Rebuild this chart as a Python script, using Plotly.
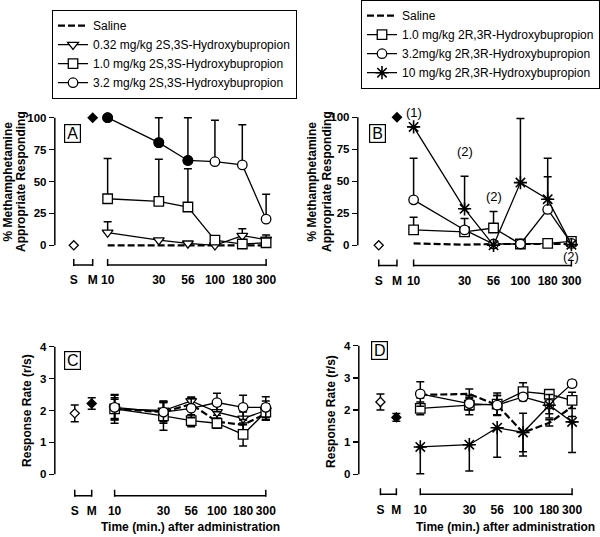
import numpy as np
import plotly.graph_objects as go

W, H = 600, 537

# ---------------- data ----------------
times = [10, 30, 56, 100, 180, 300]
time_labels = ['10', '30', '56', '100', '180', '300']
ctrl_labels = ['S', 'M']

# Panel A: % methamphetamine-appropriate responding, 2S,3S-hydroxybupropion
A_ctrl = [0, 100]
A_saline = [0, 0, 0, 0, 0, 0]
A_032 = [10, 4, 1.5, 0, 7.5, 4.5]
A_032_up = [8.5, 0, 0, 0, 5.5, 3.5]
A_10 = [36.5, 34.5, 30, 4, 1, 2]
A_10_up = [31.5, 33, 30, 0, 0, 0]
A_32 = [100, 80.5, 66.5, 65.5, 63, 20.5]
A_32_up = [0, 19.5, 33.5, 32.5, 31.5, 19.5]
A_32_sig = [True, True, True, False, False, False]

# Panel B: % methamphetamine-appropriate responding, 2R,3R-hydroxybupropion
B_ctrl = [0, 100]
B_saline = [1.5, 0.5, 1, 1, 1, 1]
B_10 = [12, 10.5, 13.5, 1, 1.5, 3]
B_10_up = [10, 3.5, 13, 0, 0, 0]
B_32 = [35.5, 12, 1, 1, 28, 1.5]
B_32_up = [32.5, 9, 0, 0, 25.5, 0]
B_100 = [92.5, 28.5, 0, 49, 36, 0.5]
B_100_up = [0, 25.5, 0, 50, 32, 0]
B_n_labels = ['(1)', '(2)', '(2)', '(2)', '', '(2)']
B_n_y = [104, 73, 38, 111, None, -9]

# Panel C: response rate (r/s), 2S,3S
C_ctrl = [1.91, 2.22]
C_ctrl_err = [0.26, 0.18]
C_saline = [2.05, 1.95, 2.2, 1.65, 1.55, 1.9]
C_saline_err = [0.35, 0.3, 0.2, 0.2, 0.15, 0.2]
C_032 = [2.05, 2.0, 2.3, 1.95, 1.75, 2.0]
C_032_err = [0.3, 0.25, 0.12, 0.2, 0.2, 0.3]
C_10 = [2.05, 1.83, 1.68, 1.6, 1.25, 1.95]
C_10_err = [0.45, 0.45, 0.19, 0.16, 0.36, 0.25]
C_32 = [2.1, 1.95, 2.07, 2.25, 2.1, 2.1]
C_32_err = [0.38, 0.35, 0.3, 0.29, 0.38, 0.33]

# Panel D: response rate (r/s), 2R,3R
D_ctrl = [2.25, 1.77]
D_ctrl_err = [0.25, 0.12]
D_saline = [2.47, 2.5, 2.15, 1.3, 1.6, 2.1]
D_saline_err = [0.1, 0.15, 0.3, 0.6, 0.1, 0.3]
D_10 = [2.05, 2.15, 2.18, 2.57, 2.49, 2.3]
D_10_err = [0.2, 0.3, 0.35, 0.28, 0.1, 0.25]
D_32 = [2.5, 2.2, 2.15, 2.41, 2.18, 2.82]
D_32_err = [0.38, 0.2, 0.3, 0.1, 0.3, 0.1]
D_100 = [0.85, 0.92, 1.45, 1.3, 2.15, 1.63]
D_100_down = [0.83, 0.82, 0.92, 0.73, 0.4, 0.95]

# ---------------- layout helpers ----------------
FONT = 'Arial, Liberation Sans, sans-serif'
BLACK = 'black'


def ydom(p0, v0, p1, v1, ptop, pbot):
    ppu = (p0 - p1) / (v1 - v0)
    rmin = v0 - (pbot - p0) / ppu
    rmax = v0 + (p0 - ptop) / ppu
    return [1 - pbot / H, 1 - ptop / H], [rmin, rmax], ppu


def xdom(p10, p300, pleft, pright):
    ppd = (p300 - p10) / np.log10(30)
    lmin = 1 - (p10 - pleft) / ppd
    lmax = np.log10(300) + (pright - p300) / ppd
    return [pleft / W, pright / W], [lmin, lmax], ppd


panels = {
    'A': dict(y=(245.3, 0, 117.7, 100), line=265.0, x=(108, 267, 55, 290), S=74, M=93,
              ytick=[0, 25, 50, 75, 100]),
    'B': dict(y=(245.3, 0, 117.3, 100), line=265.5, x=(415, 573.3, 359, 598), S=380, M=398.3,
              ytick=[0, 25, 50, 75, 100]),
    'C': dict(y=(474.3, 0, 346.7, 4), line=495.7, x=(115, 266.7, 55, 290), S=75, M=92,
              ytick=[0, 1, 2, 3, 4]),
    'D': dict(y=(474.3, 0, 345.7, 4), line=494.3, x=(421.7, 574, 360, 598), S=381.7, M=397.7,
              ytick=[0, 1, 2, 3, 4]),
}

fig = go.Figure()
layout = dict(width=W, height=H, margin=dict(l=0, r=0, t=0, b=0, pad=0),
              paper_bgcolor='white', plot_bgcolor='white',
              font=dict(family=FONT, color=BLACK), showlegend=True)
shapes = []
annotations = []

for i, (name, p) in enumerate(panels.items()):
    idx = '' if i == 0 else str(i + 1)
    xa, ya = 'xaxis' + idx, 'yaxis' + idx
    xr, yr = 'x' + idx, 'y' + idx
    p0, v0, p1, v1 = p['y']
    yd, yrng, ppu = ydom(p0, v0, p1, v1, p1 - 14, p['line'])
    xd, xrng, ppd = xdom(*p['x'])
    sx = 10 ** (1 - (p['x'][0] - p['S']) / ppd)
    mx = 10 ** (1 - (p['x'][0] - p['M']) / ppd)
    p['sx'], p['mx'], p['xr'], p['yr'] = sx, mx, xr, yr
    layout[xa] = dict(type='log', domain=xd, range=xrng, anchor=yr,
                      tickvals=[sx, mx] + times, ticktext=ctrl_labels + time_labels,
                      ticks='outside', ticklen=4, tickcolor='rgba(0,0,0,0)',
                      showline=False, showgrid=False, zeroline=False,
                      tickfont=dict(size=12, family=FONT, color=BLACK, weight='bold'))
    layout[ya] = dict(domain=yd, range=yrng, anchor=xr, tickvals=p['ytick'],
                      ticks='outside', ticklen=5, tickwidth=1.5, tickcolor=BLACK,
                      showline=False, showgrid=False, zeroline=False,
                      tickfont=dict(size=11.5, family=FONT, color=BLACK, weight='bold'))
    # y axis line (0 .. max tick)
    shapes.append(dict(type='line', xref=xr + ' domain', yref=yr, x0=0, x1=0,
                       y0=p['ytick'][0], y1=p['ytick'][-1], line=dict(color=BLACK, width=1.5)))
    # broken x axis line with end ticks (y in paper units so it isn't clipped)
    yl = 1 - p['line'] / H
    yt = 1 - (p['line'] - 6) / H
    yb = 1 - (p['line'] + 1) / H
    for a, b in [(sx, mx), (times[0], times[-1])]:
        shapes.append(dict(type='line', xref=xr, yref='paper', x0=a, x1=b, y0=yl, y1=yl,
                           line=dict(color=BLACK, width=1.5)))
        for t in (a, b):
            shapes.append(dict(type='line', xref=xr, yref='paper', x0=t, x1=t, y0=yb, y1=yt,
                               line=dict(color=BLACK, width=1.5)))


def err(up, down=None, w=4):
    if down is None:
        down = [0] * len(up)
    return dict(type='data', array=up, arrayminus=down, symmetric=False,
                color=BLACK, thickness=1.5, width=w)


def series(panel, y, symbol, name=None, legend=None, up=None, down=None,
           dashed=False, size=9.5, fill='white', showlegend=False):
    p = panels[panel]
    kw = {}
    if up is not None or down is not None:
        kw['error_y'] = err(up if up is not None else [0] * len(y), down)
    mode = 'lines' if symbol is None else 'lines+markers'
    marker = None
    if symbol is not None:
        if symbol == 'asterisk-open':
            marker = dict(symbol=symbol, size=11, color=BLACK, line=dict(color=BLACK, width=1.6))
        else:
            marker = dict(symbol=symbol, size=size, color=fill, line=dict(color=BLACK, width=1.3))
    fig.add_trace(go.Scatter(
        x=times, y=y, mode=mode, name=name, legend=legend, showlegend=showlegend,
        xaxis=p['xr'], yaxis=p['yr'], marker=marker, cliponaxis=False,
        line=dict(color=BLACK, width=2.2 if dashed else 1.3, dash='7px,3px' if dashed else 'solid'),
        **kw))


def controls(panel, vals, errs=None):
    p = panels[panel]
    for j, (xv, v, fillc) in enumerate(zip([p['sx'], p['mx']], vals, ['white', BLACK])):
        kw = {}
        if errs is not None:
            kw['error_y'] = err([errs[j]], [errs[j]], w=4)
        fig.add_trace(go.Scatter(
            x=[xv], y=[v], mode='markers', showlegend=False, cliponaxis=False,
            xaxis=p['xr'], yaxis=p['yr'],
            marker=dict(symbol='diamond', size=7, color=fillc, line=dict(color=BLACK, width=1.3)),
            **kw))


# ---- Panel A ----
controls('A', A_ctrl)
series('A', A_saline, None, 'Saline', 'legend', dashed=True, showlegend=True)
series('A', A_032, 'triangle-down', '0.32 mg/kg 2S,3S-Hydroxybupropion', 'legend',
       up=A_032_up, showlegend=True)
series('A', A_10, 'square', '1.0 mg/kg 2S,3S-Hydroxybupropion', 'legend', up=A_10_up, showlegend=True)
series('A', A_32, 'circle', '3.2 mg/kg 2S,3S-Hydroxybupropion', 'legend', up=A_32_up, showlegend=True)
sig_t = [t for t, s in zip(times, A_32_sig) if s]
sig_v = [v for v, s in zip(A_32, A_32_sig) if s]
fig.add_trace(go.Scatter(x=sig_t, y=sig_v, mode='markers', showlegend=False, cliponaxis=False,
                         xaxis='x', yaxis='y',
                         marker=dict(symbol='circle', size=9.5, color=BLACK,
                                     line=dict(color=BLACK, width=1.3))))

# ---- Panel B ----
controls('B', B_ctrl)
series('B', B_saline, None, 'Saline', 'legend2', dashed=True, showlegend=True)
series('B', B_10, 'square', '1.0 mg/kg 2R,3R-Hydroxybupropion', 'legend2', up=B_10_up, showlegend=True)
series('B', B_32, 'circle', '3.2mg/kg 2R,3R-Hydroxybupropion', 'legend2', up=B_32_up, showlegend=True)
series('B', B_100, 'asterisk-open', '10 mg/kg 2R,3R-Hydroxybupropion', 'legend2',
       up=B_100_up, showlegend=True)
for t, lab, yv in zip(times, B_n_labels, B_n_y):
    if lab:
        annotations.append(dict(x=np.log10(t), y=yv, xref='x2', yref='y2', text=lab,
                                xanchor='center', yanchor='middle',
                                showarrow=False, font=dict(size=13, family=FONT, color=BLACK)))

# ---- Panel C ----
controls('C', C_ctrl, C_ctrl_err)
series('C', C_saline, None, up=C_saline_err, down=C_saline_err, dashed=True)
series('C', C_032, 'triangle-down', up=C_032_err, down=C_032_err)
series('C', C_10, 'square', up=C_10_err, down=C_10_err)
series('C', C_32, 'circle', up=C_32_err, down=C_32_err)

# ---- Panel D ----
controls('D', D_ctrl, D_ctrl_err)
series('D', D_saline, None, up=D_saline_err, down=D_saline_err, dashed=True)
series('D', D_10, 'square', up=D_10_err, down=D_10_err)
series('D', D_32, 'circle', up=D_32_err, down=D_32_err)
series('D', D_100, 'asterisk-open', up=[0] * 6, down=D_100_down)

# ---- panel letters ----
for lab, cx, cy in [('A', 73, 133.5), ('B', 379, 133.3), ('C', 73, 360), ('D', 380.5, 350)]:
    annotations.append(dict(x=cx / W, y=1 - cy / H, xref='paper', yref='paper', text=lab,
                            xanchor='center', yanchor='middle',
                            showarrow=False, font=dict(size=16, family=FONT, color=BLACK),
                            bordercolor=BLACK, borderwidth=1.2, borderpad=0, width=15, height=17,
                            bgcolor='white'))

# ---- axis titles ----
bold = dict(size=12, family=FONT, color=BLACK, weight='bold')
for txt, cx, cy in [('% Methamphetamine', 8.5, 181), ('Appropriate Responding', 21, 181),
                    ('% Methamphetamine', 313.5, 181), ('Appropriate Responding', 328, 181),
                    ('Response Rate (r/s)', 27, 410), ('Response Rate (r/s)', 332, 411)]:
    annotations.append(dict(x=cx / W, y=1 - cy / H, xref='paper', yref='paper', text=txt,
                            xanchor='center', yanchor='middle',
                            textangle=-90, showarrow=False, font=bold))
for cx in (191, 507.5):
    annotations.append(dict(x=cx / W, y=1 - 527 / H, xref='paper', yref='paper',
                            xanchor='center', yanchor='middle',
                            text='Time (min.) after administration', showarrow=False, font=bold))

layout['shapes'] = shapes
layout['annotations'] = annotations
leg_common = dict(xanchor='left', yanchor='top', bordercolor=BLACK, borderwidth=1.2,
                  bgcolor='white', font=dict(size=12, family=FONT, color=BLACK),
                  itemwidth=30, tracegroupgap=0, traceorder='normal')
layout['legend'] = dict(x=52 / W, y=1 - 10 / H, **leg_common)
layout['legend2'] = dict(x=362 / W, y=1.0, **leg_common)

fig.update_layout(**layout)
fig.write_html('out.html', config={'displayModeBar': False, 'staticPlot': True},
               post_script="document.body.style.margin='0';document.body.style.overflow='hidden';")
